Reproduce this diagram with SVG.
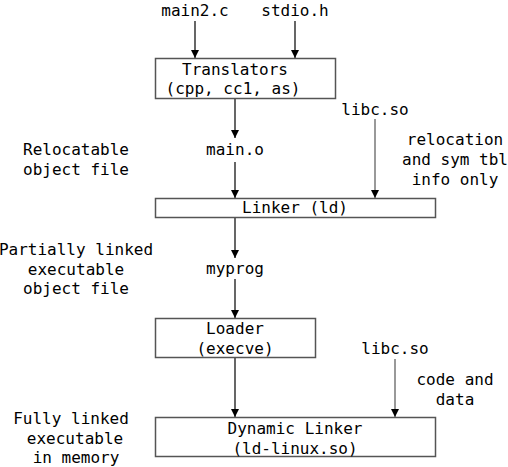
<svg xmlns="http://www.w3.org/2000/svg" width="508" height="467" viewBox="0 0 508 467">
<style>
text{font-family:"DejaVu Sans Mono","Liberation Mono",monospace;font-size:16px;fill:#000;text-anchor:middle}
.box{fill:#fff;stroke:#555;stroke-width:1.5}
.a{stroke:#000;stroke-width:1.2;fill:none;marker-end:url(#ah)}
.g{stroke:#555;stroke-width:1.2;fill:none;marker-end:url(#ah)}
</style>
<defs>
<marker id="ah" markerUnits="userSpaceOnUse" markerWidth="8" markerHeight="8" refX="8" refY="4" orient="auto" viewBox="0 0 8 8"><path d="M0,0 L8,4 L0,8 Z" fill="#000"/></marker>
</defs>
<rect width="508" height="467" fill="#fff"/>
<g id="connectors">
<line x1="195" y1="21" x2="195" y2="58" class="a"/>
<line x1="295" y1="21" x2="295" y2="58" class="a"/>
<line x1="235" y1="98" x2="235" y2="138" class="a"/>
<line x1="235" y1="162" x2="235" y2="198" class="a"/>
<line x1="375" y1="119" x2="375" y2="198" class="g"/>
<line x1="235" y1="218" x2="235" y2="258" class="a"/>
<line x1="235" y1="279" x2="235" y2="318" class="a"/>
<line x1="235" y1="357" x2="235" y2="417" class="a"/>
<line x1="395" y1="359" x2="395" y2="417" class="g"/>
</g>
<g id="main2c"><text x="195" y="16">main2.c</text></g>
<g id="stdioh"><text x="295" y="16">stdio.h</text></g>
<g id="translators"><rect class="box" x="155.5" y="58.5" width="180" height="40"/><text x="235" y="75">Translators</text><text x="233" y="94">(cpp, cc1, as)</text></g>
<g id="maino"><text x="235" y="155">main.o</text></g>
<g id="libc1"><text x="375" y="115">libc.so</text></g>
<g id="reloc-label"><text x="76" y="155">Relocatable</text><text x="76" y="175">object file</text></g>
<g id="reloc-info"><text x="455" y="145">relocation</text><text x="455" y="165">and sym tbl</text><text x="455" y="185">info only</text></g>
<g id="linker"><rect class="box" x="155.5" y="198.5" width="280" height="19"/><text x="295" y="213">Linker (ld)</text></g>
<g id="partial-label"><text x="76" y="255">Partially linked</text><text x="76" y="275">executable</text><text x="76" y="294">object file</text></g>
<g id="myprog"><text x="235" y="274">myprog</text></g>
<g id="loader"><rect class="box" x="155.5" y="318.5" width="160" height="39"/><text x="235" y="334">Loader</text><text x="235" y="354">(execve)</text></g>
<g id="libc2"><text x="395" y="354">libc.so</text></g>
<g id="code-data"><text x="455" y="385">code and</text><text x="455" y="405">data</text></g>
<g id="full-label"><text x="71" y="424">Fully linked</text><text x="75" y="444">executable</text><text x="76" y="463">in memory</text></g>
<g id="dynlinker"><rect class="box" x="155.5" y="417.5" width="280" height="39"/><text x="295" y="434">Dynamic Linker</text><text x="295" y="454">(ld-linux.so)</text></g>
</svg>
